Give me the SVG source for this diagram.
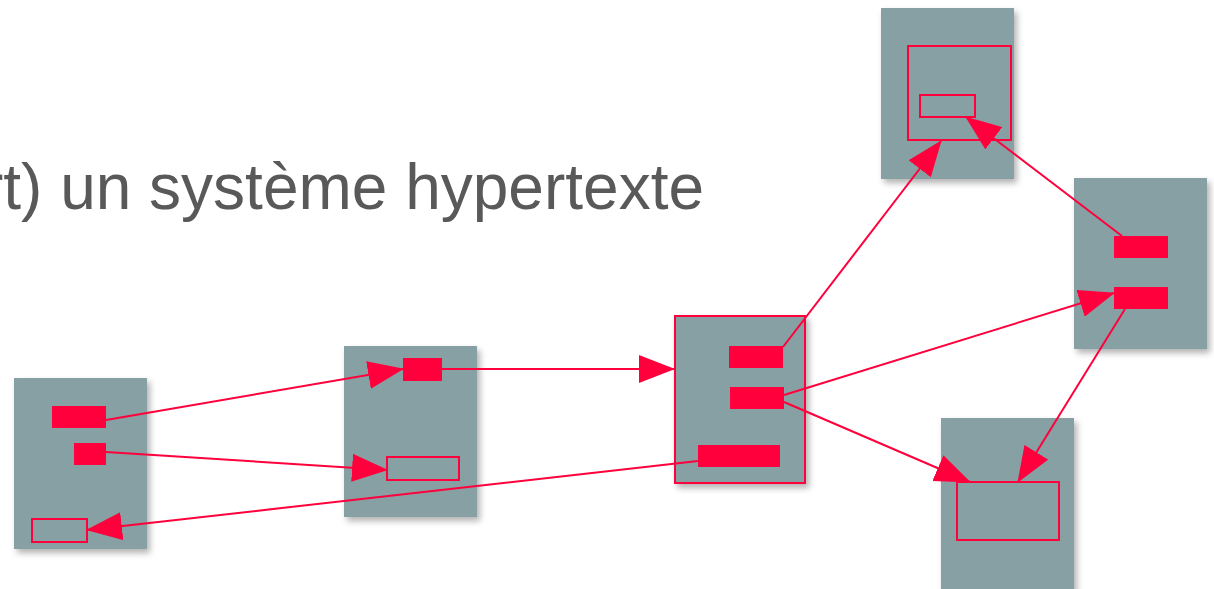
<svg xmlns="http://www.w3.org/2000/svg" width="1214" height="589" viewBox="0 0 1214 589">
<style>
.page{fill:#87a0a4;filter:url(#sh)}
.fill{fill:#ff003c}
.out{fill:none;stroke:#ff003c;stroke-width:2}
.link{stroke:#ff003c;stroke-width:2;fill:none;marker-end:url(#ah)}
.title{font-family:"Liberation Sans",Arial,sans-serif;font-size:64px;fill:#595959}
</style>
<defs>
<filter id="sh" x="-10%" y="-10%" width="130%" height="130%">
<feDropShadow dx="3" dy="4" stdDeviation="3" flood-color="#000" flood-opacity="0.3"/>
</filter>
<marker id="ah" markerUnits="userSpaceOnUse" markerWidth="36" markerHeight="28" refX="35" refY="14" orient="auto" viewBox="0 0 36 28">
<path d="M0,0 L36,14 L0,28 z" fill="#ff003c"/>
</marker>
</defs>
<rect width="1214" height="589" fill="#fff"/>
<text class="title" x="704" y="209" text-anchor="end">rt) un système hypertexte</text>
<g id="page1">
<rect class="page" x="14" y="378" width="133" height="171"/>
<rect class="fill" x="52" y="406" width="54" height="22"/>
<rect class="fill" x="74" y="443" width="32" height="22"/>
<rect class="out" x="32" y="519" width="55" height="23"/>
</g>
<g id="page2">
<rect class="page" x="344" y="346" width="133" height="171"/>
<rect class="fill" x="403" y="358" width="39" height="23"/>
<rect class="out" x="387" y="457" width="72" height="23"/>
</g>
<g id="page3">
<rect class="page" x="674" y="315" width="132" height="169"/>
<rect class="out" x="675" y="316" width="130" height="167"/>
<rect class="fill" x="729" y="346" width="54" height="22"/>
<rect class="fill" x="730" y="387" width="54" height="22"/>
<rect class="fill" x="698" y="445" width="82" height="22"/>
</g>
<g id="page4">
<rect class="page" x="881" y="8" width="133" height="171"/>
<rect class="out" x="908" y="46" width="103" height="94"/>
<rect class="out" x="920" y="95" width="55" height="22"/>
</g>
<g id="page5">
<rect class="page" x="941" y="418" width="133" height="175"/>
<rect class="out" x="957" y="482" width="102" height="58"/>
</g>
<g id="page6">
<rect class="page" x="1074" y="178" width="133" height="171"/>
<rect class="fill" x="1114" y="236" width="54" height="22"/>
<rect class="fill" x="1114" y="287" width="54" height="22"/>
</g>
<g id="connectors">
<line class="link" x1="106" y1="420" x2="403" y2="369"/>
<line class="link" x1="106" y1="452" x2="387" y2="470"/>
<line class="link" x1="442" y1="369" x2="674" y2="369"/>
<line class="link" x1="698" y1="461" x2="87" y2="530"/>
<line class="link" x1="783" y1="347" x2="941" y2="141"/>
<line class="link" x1="784" y1="395" x2="1114" y2="293"/>
<line class="link" x1="784" y1="402" x2="970" y2="482"/>
<line class="link" x1="1122" y1="236" x2="966" y2="117"/>
<line class="link" x1="1125" y1="309" x2="1018" y2="482"/>
</g>
</svg>
